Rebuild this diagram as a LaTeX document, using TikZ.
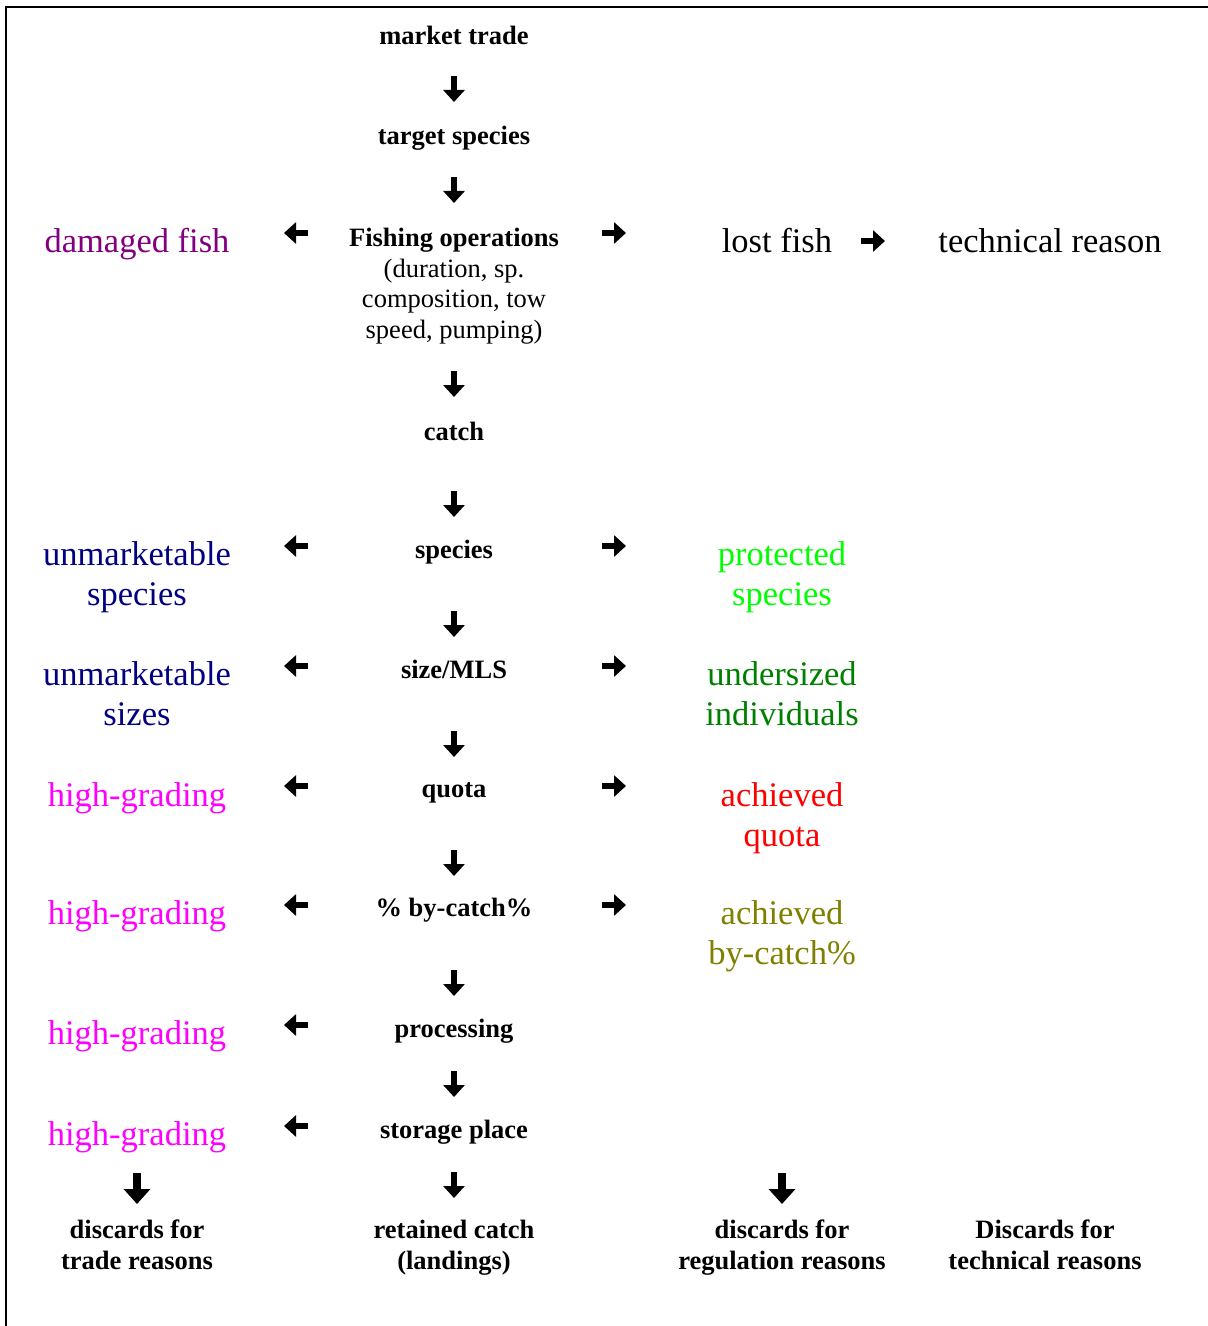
\documentclass[tikz,border=0pt]{standalone}
\usepackage{fontspec}
\setmainfont{Liberation Serif}
\usetikzlibrary{arrows.meta,positioning}
\definecolor{dmgpurple}{RGB}{128,0,128}
\definecolor{unmnavy}{RGB}{0,0,128}
\definecolor{hgmagenta}{RGB}{255,0,255}
\definecolor{protgreen}{RGB}{0,255,0}
\definecolor{undgreen}{RGB}{0,128,0}
\definecolor{quotared}{RGB}{255,0,0}
\definecolor{bcolive}{RGB}{128,128,0}

\begin{document}
\begin{tikzpicture}[x=0.5pt,y=-0.5pt,
    stage/.style={font=\fontsize{13.25}{15.5}\selectfont\bfseries,align=center,inner sep=0pt},
    note/.style={font=\fontsize{13.25}{15.25}\selectfont,align=center,inner sep=0pt},
    reason/.style={font=\fontsize{17.25}{20}\selectfont,align=center,inner sep=0pt},
    flow/.style={line width=3.4pt,-{Triangle[width=10.5pt,length=6pt]}},
    bigflow/.style={line width=4pt,-{Triangle[width=13pt,length=7.5pt]}}]
        \useasboundingbox (0,0) rectangle (1208,1326);
        \draw[line width=1pt] (6,1326) -- (6,7) -- (1208,7);

        % middle column
        \node[stage] (market) at (454,35) {market trade};
        \node[stage] (target) at (454,138) {target species};
        \node[note] (fishing) at (454,286) {\bfseries Fishing operations\\(duration, sp.\\composition, tow\\speed, pumping)};
        \node[stage] (catch) at (454,431) {catch};
        \node[stage] (species) at (454,552) {species};
        \node[stage] (size) at (454,669) {size/MLS};
        \node[stage] (quota) at (454,793) {quota};
        \node[stage] (bycatch) at (454,910) {\% by-catch\%};
        \node[stage] (processing) at (454,1031) {processing};
        \node[stage] (storage) at (454,1132) {storage place};
        \node[stage] (retained) at (454,1248) {retained catch\\(landings)};

        % trade side
        \node[reason,dmgpurple] (damaged) at (137,244) {damaged fish};
        \node[reason,unmnavy] (unmspecies) at (137,577) {unmarketable\\species};
        \node[reason,unmnavy] (unmsizes) at (137,694) {unmarketable\\sizes};
        \node[reason,hgmagenta] (hg1) at (137,798) {high-grading};
        \node[reason,hgmagenta] (hg2) at (137,916) {high-grading};
        \node[reason,hgmagenta] (hg3) at (137,1036) {high-grading};
        \node[reason,hgmagenta] (hg4) at (137,1137) {high-grading};
        \node[stage] (tradedisc) at (137,1245) {discards for\\trade reasons};

        % regulation side
        \node[reason] (lost) at (777,241) {lost fish};
        \node[reason] (technical) at (1050,241) {technical reason};
        \node[reason,protgreen] (protected) at (782,577) {protected\\species};
        \node[reason,undgreen] (undersized) at (782,694) {undersized\\individuals};
        \node[reason,quotared] (achquota) at (782,818) {achieved\\quota};
        \node[reason,bcolive] (achbycatch) at (782,936) {achieved\\by-catch\%};
        \node[stage] (regdisc) at (782,1248) {discards for\\regulation reasons};
        \node[stage] (techdisc) at (1045,1245) {Discards for\\technical reasons};

        % arrows
        \foreach \y in {89,190,384,504,624,744,863,983,1084,1185}
            \draw[flow] (454,\y-13) -- (454,\y+13);
        \foreach \y in {233,546,666,786,905,1025,1126}
            \draw[flow] (308,\y) -- (284,\y);
        \foreach \y in {233,546,666,786,905}
            \draw[flow] (602,\y) -- (626,\y);
        \draw[flow] (861,241) -- (885,241);
        \draw[bigflow] (137,1173) -- (137,1204);
        \draw[bigflow] (782,1173) -- (782,1204);
    \end{tikzpicture}
\end{document}
